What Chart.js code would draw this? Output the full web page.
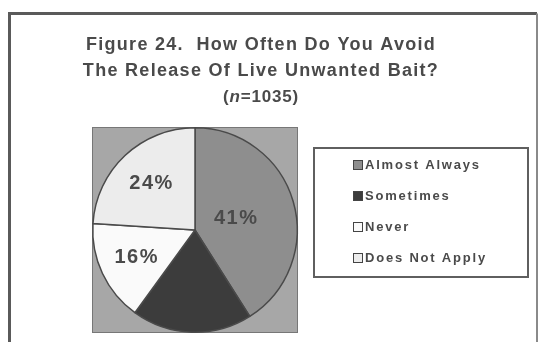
<!DOCTYPE html>
<html lang="en">
<head>
<meta charset="UTF-8">
<title>Figure 24 - Live Unwanted Bait</title>
<script src="https://cdn.jsdelivr.net/npm/chart.js"></script>
<style>
    body { margin: 0; background: #ffffff; }
    canvas { display: block; }
</style>
</head>
<body>
<canvas id="baitChart" width="540" height="342"></canvas>
<script>
// Data
const categories = ['Almost Always', 'Sometimes', 'Never', 'Does Not Apply'];
const percents = [41, 19, 16, 24];
const sliceLabels = ['41%', '', '16%', '24%'];
const titleLines = ['Figure 24.  How Often Do You Avoid', 'The Release Of Live Unwanted Bait?'];
const sampleSize = 1035;

const sliceColors = ['#8e8e8e', '#3c3c3c', '#fafafa', '#ececec'];
const textColor = '#4a4a4a';
const fontFamily = '"Liberation Sans", Arial, sans-serif';

// frame, title and grey plot background
const backdrop = {
    id: 'backdrop',
    beforeDraw(chart) {
        const ctx = chart.ctx;
        const area = chart.chartArea;
        ctx.save();
        // outer frame (bottom runs off the picture)
        ctx.strokeStyle = '#5a5a5a';
        ctx.lineWidth = 3;
        ctx.beginPath();
        ctx.moveTo(9.5, 350);
        ctx.lineTo(9.5, 13.5);
        ctx.lineTo(537, 13.5);
        ctx.stroke();
        ctx.strokeStyle = '#8a8a8a';
        ctx.lineWidth = 2;
        ctx.beginPath();
        ctx.moveTo(537, 13.5);
        ctx.lineTo(537, 350);
        ctx.stroke();

        // title
        ctx.fillStyle = textColor;
        ctx.textAlign = 'center';
        ctx.textBaseline = 'middle';
        ctx.letterSpacing = '1.3px';
        ctx.font = 'bold 18px ' + fontFamily;
        titleLines.forEach((line, i) => ctx.fillText(line, 261, 45 + i * 26));

        // (n=1035) with italic n
        const parts = [
            ['(', 'bold 17px '],
            ['n', 'italic bold 17px '],
            ['=' + sampleSize + ')', 'bold 17px ']
        ];
        ctx.letterSpacing = '0.8px';
        let total = 0;
        parts.forEach(p => { ctx.font = p[1] + fontFamily; total += ctx.measureText(p[0]).width; });
        let x = 261 - total / 2;
        ctx.textAlign = 'left';
        parts.forEach(p => {
            ctx.font = p[1] + fontFamily;
            ctx.fillText(p[0], x, 97);
            x += ctx.measureText(p[0]).width;
        });

        // plot area
        ctx.fillStyle = '#a7a7a7';
        ctx.fillRect(area.left, area.top, area.width, area.height);
        ctx.strokeStyle = '#777777';
        ctx.lineWidth = 1;
        ctx.strokeRect(area.left + 0.5, area.top + 0.5, area.width - 1, area.height - 1);
        ctx.restore();
    }
};

// percentage labels inside the slices
const sliceText = {
    id: 'sliceText',
    afterDatasetsDraw(chart, args, opts) {
        const ctx = chart.ctx;
        const arcs = chart.getDatasetMeta(0).data;
        ctx.save();
        ctx.fillStyle = textColor;
        ctx.font = 'bold 20px ' + fontFamily;
        ctx.letterSpacing = '1.5px';
        ctx.textAlign = 'center';
        ctx.textBaseline = 'middle';
        arcs.forEach((arc, i) => {
            if (!sliceLabels[i]) return;
            const mid = (arc.startAngle + arc.endAngle) / 2;
            const r = arc.outerRadius * opts.radius[i];
            ctx.fillText(sliceLabels[i], arc.x + Math.cos(mid) * r, arc.y + Math.sin(mid) * r);
        });
        ctx.restore();
    }
};

// boxed legend on the right
const boxLegend = {
    id: 'boxLegend',
    afterDraw(chart, args, opts) {
        const ctx = chart.ctx;
        const b = opts.box;
        ctx.save();
        ctx.fillStyle = '#ffffff';
        ctx.fillRect(b.x, b.y, b.w, b.h);
        ctx.strokeStyle = '#5f5f5f';
        ctx.lineWidth = 2;
        ctx.strokeRect(b.x, b.y, b.w, b.h);
        ctx.font = 'bold 13px ' + fontFamily;
        ctx.letterSpacing = '1.8px';
        ctx.textBaseline = 'middle';
        categories.forEach((name, i) => {
            const y = opts.firstRow + i * opts.rowGap;
            ctx.fillStyle = sliceColors[i];
            ctx.fillRect(opts.markX, y - 5, 10, 10);
            ctx.strokeStyle = '#444444';
            ctx.lineWidth = 1;
            ctx.strokeRect(opts.markX + 0.5, y - 4.5, 9, 9);
            ctx.fillStyle = textColor;
            ctx.fillText(name, opts.markX + 12, y);
        });
        ctx.restore();
    }
};

new Chart(document.getElementById('baitChart'), {
    type: 'pie',
    data: {
        labels: categories,
        datasets: [{
            data: percents,
            backgroundColor: sliceColors,
            borderColor: '#4a4a4a',
            borderWidth: 1.5
        }]
    },
    options: {
        responsive: false,
        animation: false,
        layout: { padding: { left: 92, right: 242, top: 127, bottom: 9 } },
        plugins: {
            legend: { display: false },
            tooltip: { enabled: false },
            sliceText: { radius: [0.42, 0, 0.63, 0.62] },
            boxLegend: {
                box: { x: 314, y: 148, w: 214, h: 129 },
                markX: 353,
                firstRow: 165,
                rowGap: 31
            }
        }
    },
    plugins: [backdrop, sliceText, boxLegend]
});
</script>
</body>
</html>
